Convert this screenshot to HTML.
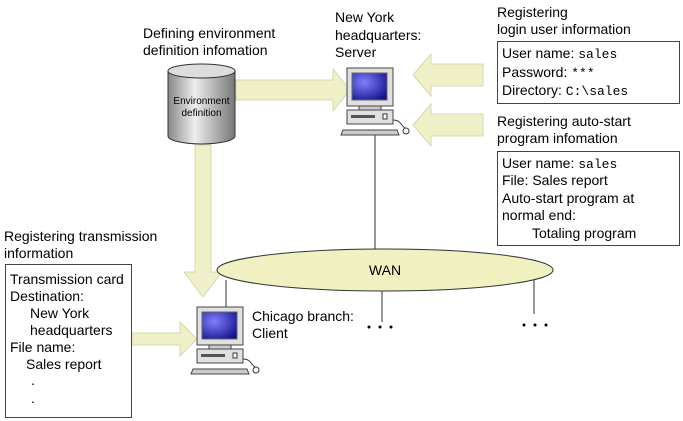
<!DOCTYPE html>
<html><head><meta charset="utf-8"><style>
html,body{margin:0;padding:0;background:#fff;}
svg{display:block;font-family:"Liberation Sans",Arial,sans-serif;}
text{font-size:14px;fill:#000;}
.m{font-family:"Liberation Mono",monospace;font-size:13px;}
</style></head><body>
<svg width="683" height="421" viewBox="0 0 683 421" xmlns="http://www.w3.org/2000/svg">
<defs>
<radialGradient id="scr" cx="0.35" cy="0.35" r="0.8"><stop offset="0" stop-color="#8080ff"/><stop offset="1" stop-color="#10108a"/></radialGradient>
<linearGradient id="cyl" x1="0" x2="1" y1="0" y2="0"><stop offset="0" stop-color="#888"/><stop offset="0.4" stop-color="#eee"/><stop offset="1" stop-color="#777"/></linearGradient>
<g id="pc">
<rect x="0" y="0" width="46" height="38" fill="#e0e0e0" stroke="#444"/>
<rect x="5" y="5" width="35" height="27" fill="url(#scr)" stroke="#666"/>
<rect x="12" y="38" width="22" height="4" fill="#ccc" stroke="#444"/>
<rect x="0" y="42" width="46" height="14" fill="#e0e0e0" stroke="#444"/>
<rect x="4" y="47" width="24" height="3" fill="#555"/>
<rect x="36" y="46" width="4" height="5" fill="#fff" stroke="#333"/>
<polygon points="-4,62 50,62 52,67 -6,67" fill="#ccc" stroke="#444"/>
<path d="M46,52 C54,52 54,58 58,60" fill="none" stroke="#333"/>
<circle cx="59" cy="63" r="3" fill="#fff" stroke="#333"/>
</g>
</defs>
<g fill="#f0f0c8" stroke="#d8d8b0">
<polygon points="236,80 333,80 333,69 350,90 333,111 333,100 236,100"/>
<polygon points="195,145 211,145 211,272 222,272 203,297 184,272 195,272"/>
<polygon points="483,64 431,64 431,54 413,75 431,96 431,86 483,86"/>
<polygon points="483,114 431,114 431,104 413,125 431,146 431,136 483,136"/>
<polygon points="132,333 180,333 180,322 197,339 180,356 180,345 132,345"/>
</g>
<path d="M168,71 L168,136 A33.5,8 0 0 0 235,136 L235,71" fill="url(#cyl)" stroke="#333"/>
<ellipse cx="201.5" cy="71" rx="33.5" ry="7" fill="#ddd" stroke="#333"/>
<text x="201.5" y="104" text-anchor="middle" style="font-size:10px">Environment</text>
<text x="201.5" y="116" text-anchor="middle" style="font-size:10px">definition</text>
<text x="143" y="38">Defining environment</text>
<text x="143" y="55">definition infomation</text>
<g stroke="#333" fill="none">
<line x1="375" y1="134" x2="375" y2="249"/>
<line x1="226" y1="280" x2="226" y2="308"/>
<line x1="382" y1="291" x2="382" y2="322"/>
<line x1="534" y1="280" x2="534" y2="314"/>
</g>
<ellipse cx="385" cy="270" rx="168" ry="21" fill="#f0f0c0" stroke="#333"/>
<text x="385" y="275" text-anchor="middle">WAN</text>
<g fill="#000">
<circle cx="369" cy="327" r="1.5"/><circle cx="380" cy="327" r="1.5"/><circle cx="391" cy="327" r="1.5"/>
<circle cx="524" cy="325" r="1.5"/><circle cx="535" cy="325" r="1.5"/><circle cx="546" cy="325" r="1.5"/>
</g>
<use href="#pc" x="347" y="68"/>
<use href="#pc" x="197" y="307"/>
<text x="335" y="22">New York</text>
<text x="335" y="40">headquarters:</text>
<text x="335" y="57">Server</text>
<text x="252" y="321">Chicago branch:</text>
<text x="252" y="338">Client</text>
<g fill="#fff" stroke="#444">
<rect x="497.5" y="41.5" width="182" height="62"/>
<rect x="497.5" y="151.5" width="182" height="94"/>
<rect x="5.5" y="264.5" width="126" height="153"/>
</g>
<text x="497" y="17">Registering</text>
<text x="497" y="34">login user information</text>
<text x="502" y="58">User name: <tspan class="m">sales</tspan></text>
<text x="502" y="77">Password: <tspan class="m">***</tspan></text>
<text x="502" y="95">Directory: <tspan class="m">C:\sales</tspan></text>
<text x="497" y="126">Registering auto-start</text>
<text x="497" y="143">program infomation</text>
<text x="502" y="168">User name: <tspan class="m">sales</tspan></text>
<text x="502" y="185">File: Sales report</text>
<text x="502" y="203">Auto-start program at</text>
<text x="502" y="220">normal end:</text>
<text x="532" y="238">Totaling program</text>
<text x="4" y="241">Registering transmission</text>
<text x="4" y="258">information</text>
<text x="10" y="284">Transmission card</text>
<text x="10" y="301">Destination:</text>
<text x="30" y="318">New York</text>
<text x="30" y="335">headquarters</text>
<text x="10" y="352">File name:</text>
<text x="26" y="369">Sales report</text>
<text x="31" y="385">.</text>
<text x="31" y="403">.</text>
</svg>
</body></html>
